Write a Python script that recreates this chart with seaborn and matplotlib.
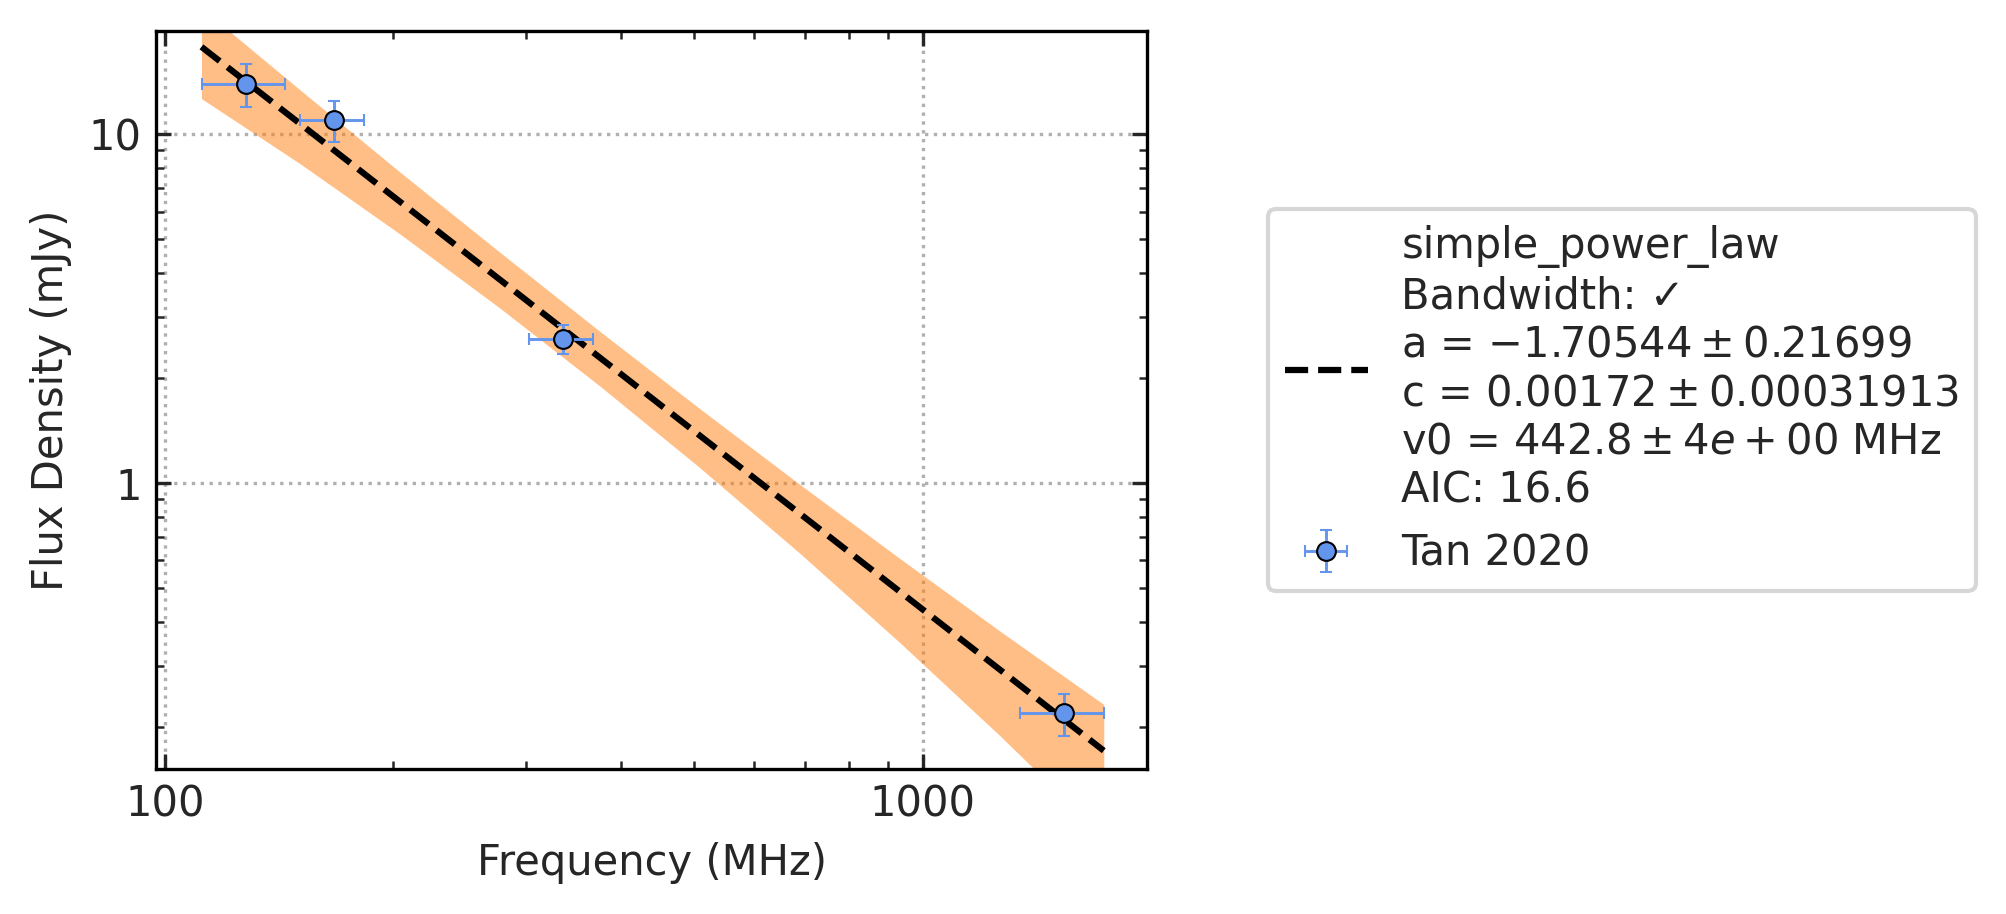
import numpy as np
import seaborn as sns
import matplotlib.pyplot as plt
from matplotlib.ticker import FuncFormatter, NullFormatter

# Tan 2020 measurements
freq = [128, 167, 335, 1538]          # MHz
freq_err = [16, 16, 32.5, 195]
flux = [13.94, 10.95, 2.59, 0.219]    # mJy
flux_err = [2.0, 1.48, 0.25, 0.03]

# fitted simple power law
fit_freq = [111.8, 1734]
fit_flux = [17.8, 0.171]

# uncertainty band
band_freq = [111.8, 151, 204.5, 277.1, 375.3, 508.5, 688.8, 933.2, 1264, 1734]
band_upper = [23.0, 13.38, 7.78, 4.58, 2.72, 1.633, 0.991, 0.608, 0.377, 0.232]
band_lower = [12.65, 8.22, 5.17, 3.17, 1.896, 1.106, 0.629, 0.349, 0.189, 0.097]

fit_label = ('simple_power_law\n'
             'Bandwidth: \u2713\n'
             'a = $-1.70544 \\pm 0.21699$\n'
             'c = $0.00172 \\pm 0.00031913$\n'
             'v0 = $442.8 \\pm 4e+00$ MHz\n'
             'AIC: 16.6')

sns.set_style('ticks')
plt.rcParams.update({
    'font.family': ['DejaVu Sans'],
    'font.size': 10,
    'xtick.direction': 'in', 'ytick.direction': 'in',
    'xtick.top': True, 'ytick.right': True,
    'xtick.minor.visible': True, 'ytick.minor.visible': True,
    'axes.edgecolor': 'black', 'axes.linewidth': 0.8,
})

fig = plt.figure(figsize=(2006/300, 914/300), dpi=300)
ax = fig.add_axes([0.0778, 0.1586, 0.4942, 0.8078])
ax.set_xscale('log')
ax.set_yscale('log')

ax.fill_between(band_freq, band_lower, band_upper, color='#ff7f0e',
                alpha=0.5, linewidth=0)
sns.lineplot(x=fit_freq, y=fit_flux, ax=ax, color='black', linestyle='--',
             linewidth=1.5, label=fit_label)
ax.errorbar(freq, flux, xerr=freq_err, yerr=flux_err, fmt='o',
            color='cornflowerblue', ecolor='cornflowerblue', mec='black',
            mew=0.5, ms=4.5, elinewidth=0.7, capsize=1.4, capthick=0.7,
            label='Tan 2020', zorder=5)

ax.set_xlim(97.4, 1980)
ax.set_ylim(0.1515, 19.8)

fmt = FuncFormatter(lambda v, p: '{:g}'.format(v))
ax.xaxis.set_major_formatter(fmt)
ax.yaxis.set_major_formatter(fmt)
ax.xaxis.set_minor_formatter(NullFormatter())
ax.yaxis.set_minor_formatter(NullFormatter())
ax.grid(True, which='major', linestyle=':', color='#b0b0b0', linewidth=0.8)

ax.set_xlabel('Frequency (MHz)')
ax.set_ylabel('Flux Density (mJy)')
ax.legend(loc='center left', bbox_to_anchor=(1.1216, 0.5), borderaxespad=0,
          fontsize=10)

plt.savefig('out.png', dpi=300)
